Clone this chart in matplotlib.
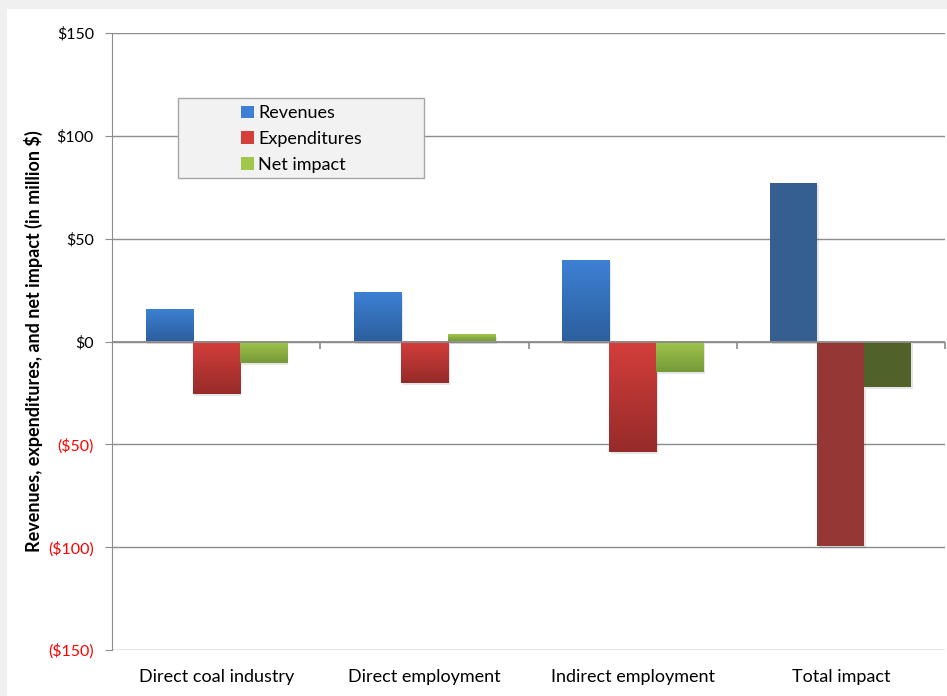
import numpy as np
import matplotlib.pyplot as plt
from matplotlib.colors import LinearSegmentedColormap
from matplotlib.patches import Rectangle

plt.rcParams['font.family'] = ['Lato', 'DejaVu Sans']

# --- Data (million $) ---
categories = ['Direct coal industry', 'Direct employment', 'Indirect employment', 'Total impact']
revenues = [15.2, 23.6, 39.0, 77.2]
expenditures = [-25.6, -20.3, -53.6, -99.3]
net_impact = [-10.5, 3.0, -14.7, -22.1]
series_names = ['Revenues', 'Expenditures', 'Net impact']
yticks = [-150, -100, -50, 0, 50, 100, 150]
ytick_labels = ['($150)', '($100)', '($50)', '$0', '$50', '$100', '$150']

# gradient (top, bottom) for the first three groups, flat colour for the total
grad_colors = [('#3d80d3', '#2c5f9e'), ('#d43e3b', '#962b29'), ('#a0c64c', '#76993a')]
total_colors = ['#355f90', '#953735', '#506229']

fig = plt.figure(figsize=(9.47, 6.96), dpi=100)
fig.patch.set_facecolor('#f0f0f0')
# white chart area
fig.add_artist(Rectangle((7 / 947, 0), 1, 1 - 9 / 696, transform=fig.transFigure,
                         facecolor='white', edgecolor='none', zorder=0))

ax = fig.add_axes([112 / 947, 1 - 650 / 696, 833 / 947, 617 / 696])
ax.set_facecolor('white')

x = np.arange(len(categories))
width = 0.226
all_series = [revenues, expenditures, net_impact]

for s, vals in enumerate(all_series):
    for i, v in enumerate(vals):
        left = x[i] + (s - 1) * width - width / 2
        lo, hi = min(0, v), max(0, v)
        # soft shadow, shifted a little right and down
        ax.bar(left + width / 2 + 0.008, v, width, bottom=-1.0,
               color='#000000', alpha=0.10, zorder=2, linewidth=0)
        if i < len(categories) - 1:
            top_c, bot_c = grad_colors[s]
            cmap = LinearSegmentedColormap.from_list('g', [bot_c, top_c])
            grad = np.linspace(0, 1, 64).reshape(-1, 1)
            ax.imshow(grad, extent=(left, left + width, lo, hi), origin='lower',
                      cmap=cmap, aspect='auto', zorder=3, interpolation='bilinear')
        else:
            ax.bar(left + width / 2, v, width, color=total_colors[s], zorder=3, linewidth=0)

# gridlines and axes
ax.set_xlim(-0.5, len(categories) - 0.5)
ax.set_ylim(-150, 150)
ax.set_yticks(yticks)
ax.set_yticklabels(ytick_labels, fontsize=11.5)
for lab, val in zip(ax.get_yticklabels(), yticks):
    lab.set_color('red' if val < 0 else 'black')
ax.yaxis.grid(True, color='#8c8c8c', linewidth=1.0)
ax.set_axisbelow(True)
ax.tick_params(axis='y', length=5, color='#8c8c8c', pad=8)
ax.set_xticks(x)
ax.set_xticklabels(categories, fontsize=13)
ax.tick_params(axis='x', length=0, pad=14)
for sp in ['top', 'right', 'bottom']:
    ax.spines[sp].set_visible(False)
ax.spines['left'].set_color('#8c8c8c')

# zero axis with category separator ticks
ax.axhline(0, color='#8c8c8c', linewidth=1.3, zorder=4)
ax.vlines(np.arange(len(categories)) + 0.5, -3.5, 0, color='#8c8c8c', linewidth=1.2,
          zorder=4, clip_on=False)

ax.set_ylabel('Revenues, expenditures, and net impact (in million $)', fontsize=13,
              fontweight='bold', labelpad=4)

# legend box
ax.add_patch(Rectangle((0.0792, 0.765), 0.2953, 0.1297, transform=ax.transAxes,
                       facecolor='#f2f2f2', edgecolor='#a6a6a6', linewidth=1, zorder=5))
handles = [Rectangle((0, 0), 1, 1, facecolor=grad_colors[k][0], edgecolor='none')
           for k in range(3)]
leg = ax.legend(handles, series_names, loc='upper left', bbox_to_anchor=(0.155, 0.883),
                fontsize=13, frameon=False, handlelength=0.7, handleheight=0.7,
                handletextpad=0.25, labelspacing=0.55, borderpad=0, borderaxespad=0)
leg.set_zorder(6)

fig.savefig('out.png', dpi=100, facecolor=fig.get_facecolor())
